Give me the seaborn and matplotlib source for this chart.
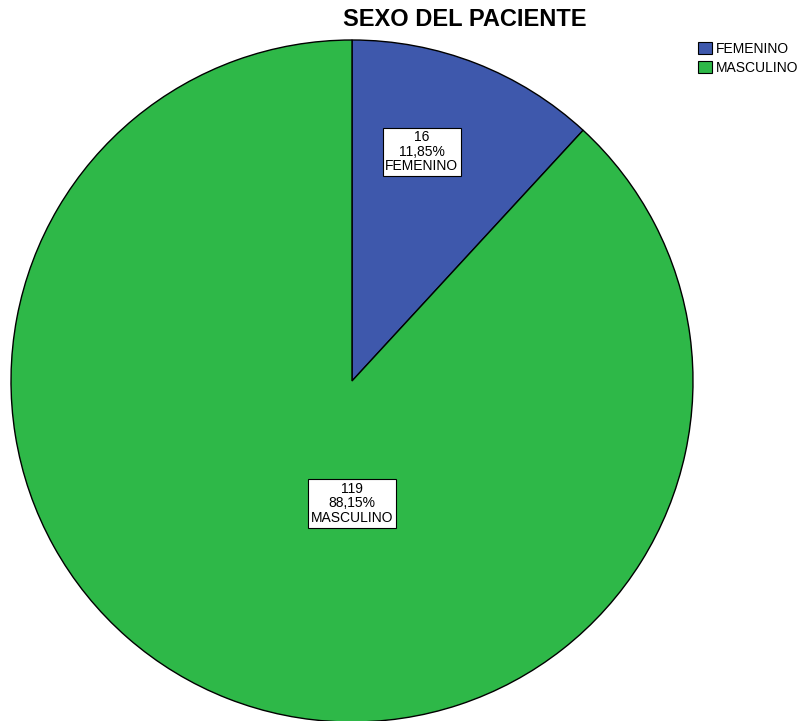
import matplotlib
matplotlib.use('Agg')
import matplotlib.pyplot as plt
import seaborn as sns

# datos
categorias = ['FEMENINO', 'MASCULINO']
conteos = [16, 119]
porcentajes = ['11,85%', '88,15%']
colores = ['#3E58AC', '#2EB848']

# posicion de las etiquetas (en unidades del radio)
etiqueta_x = [0.205, 0.0]
etiqueta_y = [0.672, -0.359]

sns.set_theme(style='white')
plt.rcParams['font.family'] = ['Liberation Sans', 'DejaVu Sans']
plt.rcParams['text.color'] = 'black'

fig = plt.figure(figsize=(8.07, 7.21), dpi=100)
# pie: centro (352, 381) px, radio 341 px
ax = fig.add_axes([11 / 807, (721 - 722) / 721, 682 / 807, 682 / 721])

wedges, _ = ax.pie(conteos, colors=colores, startangle=90, counterclock=False,
                   wedgeprops={'edgecolor': 'black', 'linewidth': 1.0},
                   radius=1.0)
ax.set_xlim(-1, 1)
ax.set_ylim(-1, 1)
ax.set_aspect('equal')
ax.axis('off')

for i in range(len(categorias)):
    texto = f'{conteos[i]}\n{porcentajes[i]}\n{categorias[i]}'
    ax.text(etiqueta_x[i], etiqueta_y[i], texto, ha='center', va='center',
            fontsize=10, linespacing=1.05, color='black',
            bbox=dict(boxstyle='square,pad=0.2', facecolor='white',
                      edgecolor='black', linewidth=0.8))

fig.text(465 / 807, 1 - 20 / 721, 'SEXO DEL PACIENTE', ha='center', va='center',
         fontsize=17, fontweight='bold', color='black')

leg = fig.legend(wedges, categorias, loc='upper left',
                 bbox_to_anchor=(698 / 807, 1 - 42 / 721), frameon=False,
                 fontsize=10, handlelength=1.0, handleheight=1.0,
                 handletextpad=0.3, labelspacing=0.35, borderaxespad=0,
                 borderpad=0)
for h in leg.legend_handles:
    h.set_edgecolor('black')
    h.set_linewidth(0.8)

fig.savefig('out.png', dpi=100)
